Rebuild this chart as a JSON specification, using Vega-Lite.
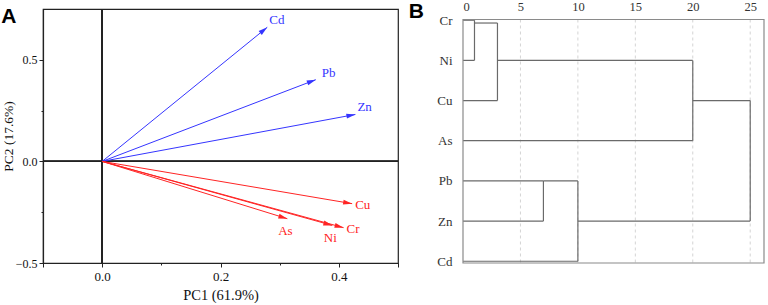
{
  "$schema": "https://vega.github.io/schema/vega-lite/v6.json",
  "padding": {"left": 0, "top": 0, "right": 2, "bottom": 0},
  "background": "white",
  "config": {
    "font": "Liberation Serif",
    "concat": {"spacing": 8},
    "axis": {"labelFont": "Liberation Serif", "titleFont": "Liberation Serif", "titleFontWeight": "normal"}
  },
  "hconcat": [
    {
      "width": 355,
      "height": 254,
      "title": {"text": "A", "anchor": "start", "frame": "bounds", "font": "Liberation Sans", "fontSize": 21, "fontWeight": "bold", "color": "#000", "baseline": "top", "dy": 23},
      "view": {"stroke": "#222", "strokeWidth": 1.2},
      "data": {"values": [
        {"v": "Cd", "g": "b", "x": 0.279, "y": 0.66},
        {"v": "Pb", "g": "b", "x": 0.361, "y": 0.402},
        {"v": "Zn", "g": "b", "x": 0.428, "y": 0.231},
        {"v": "Cu", "g": "r", "x": 0.4225, "y": -0.208},
        {"v": "Cr", "g": "r", "x": 0.408, "y": -0.326},
        {"v": "Ni", "g": "r", "x": 0.389, "y": -0.315},
        {"v": "As", "g": "r", "x": 0.313, "y": -0.282}
      ]},
      "encoding": {
        "x": {"field": "x", "type": "quantitative", "scale": {"domain": [-0.1, 0.5], "nice": false, "zero": false},
          "axis": {"values": [-0.1, 0, 0.1, 0.2, 0.3, 0.4, 0.5], "labelExpr": "datum.value == 0 || datum.value == 0.2 || datum.value == 0.4 ? format(datum.value, '.1f') : ''", "grid": false, "domainColor": "#222", "domainWidth": 1.2, "tickColor": "#222", "tickSize": {"condition": {"test": "datum.value == 0.1 || datum.value == 0.3", "value": 2}, "value": 4}, "labelFontSize": 13, "labelColor": "#111", "labelPadding": 3, "title": "PC1 (61.9%)", "titleFontSize": 14.5, "titleColor": "#111", "titlePadding": 5}},
        "y": {"field": "y", "type": "quantitative", "scale": {"domain": [-0.5, 0.75], "nice": false, "zero": false},
          "axis": {"values": [-0.5, -0.25, 0, 0.25, 0.5], "labelExpr": "datum.value == 0.25 || datum.value == -0.25 ? '' : format(datum.value, '.1f')", "grid": false, "domainColor": "#222", "domainWidth": 1.2, "tickColor": "#222", "tickSize": {"condition": {"test": "datum.value == 0.25 || datum.value == -0.25", "value": 2}, "value": 4}, "labelFontSize": 12, "labelColor": "#111", "labelPadding": 2, "title": "PC2 (17.6%)", "titleFontSize": 13.5, "titleColor": "#111", "titlePadding": 0}},
        "color": {"field": "g", "type": "nominal", "scale": {"domain": ["b", "r"], "range": ["#3535ff", "#ff2424"]}, "legend": null}
      },
      "layer": [
        {
          "mark": {"type": "rule", "color": "#222", "strokeWidth": 1.2},
          "encoding": {"x": {"datum": 0, "type": "quantitative"}, "y": null, "color": null}
        },
        {
          "mark": {"type": "rule", "color": "#222", "strokeWidth": 1.2},
          "encoding": {"y": {"datum": 0, "type": "quantitative"}, "x": null, "color": null}
        },
        {
          "data": {"values": [{"t": 0.1}, {"t": 0.2}, {"t": 0.3}, {"t": 0.4}]},
          "mark": {"type": "rule", "color": "#222", "strokeWidth": 1.2},
          "encoding": {"x": {"field": "t", "type": "quantitative"}, "y": {"datum": 0.75, "type": "quantitative"}, "y2": {"datum": 0.735}, "color": null}
        },
        {
          "mark": {"type": "rule", "strokeWidth": 1},
          "encoding": {
            "x2": {"datum": 0},
            "y2": {"datum": 0}
          }
        },
        {
          "transform": [{"calculate": "atan2(datum.x * 594, datum.y * 203.4) * 180 / PI", "as": "ang"}],
          "mark": {"type": "point", "shape": "M0,0L-0.55,2L0.55,2Z", "filled": true, "size": 81, "opacity": 1},
          "encoding": {
            "angle": {"field": "ang", "type": "quantitative", "scale": null}
          }
        },
        {
          "transform": [{"filter": "datum.v == 'Cd' || datum.v == 'Zn'"}],
          "mark": {"type": "text", "align": "left", "baseline": "middle", "dx": 2, "dy": -7.5, "fontSize": 13, "font": "Liberation Serif"},
          "encoding": {"text": {"field": "v", "type": "nominal"}}
        },
        {
          "transform": [{"filter": "datum.v == 'Pb'"}],
          "mark": {"type": "text", "align": "left", "baseline": "middle", "dx": 6, "dy": -7, "fontSize": 13, "font": "Liberation Serif"},
          "encoding": {"text": {"field": "v", "type": "nominal"}}
        },
        {
          "transform": [{"filter": "datum.v == 'Cu' || datum.v == 'Cr'"}],
          "mark": {"type": "text", "align": "left", "baseline": "middle", "dx": 3, "dy": 1, "fontSize": 13, "font": "Liberation Serif"},
          "encoding": {"text": {"field": "v", "type": "nominal"}}
        },
        {
          "transform": [{"filter": "datum.v == 'Ni' || datum.v == 'As'"}],
          "mark": {"type": "text", "align": "center", "baseline": "middle", "dx": -2, "dy": 12.5, "fontSize": 13, "font": "Liberation Serif"},
          "encoding": {"text": {"field": "v", "type": "nominal"}}
        }
      ]
    },
    {
      "width": 301,
      "height": 254,
      "title": {"text": "B", "anchor": "start", "frame": "bounds", "font": "Liberation Sans", "fontSize": 21, "fontWeight": "bold", "color": "#000", "baseline": "top", "dy": 25, "dx": -28},
      "view": {"stroke": null},
      "data": {"values": [
        {"x1": 0, "x2": 1, "y1": 0, "y2": 0},
        {"x1": 0, "x2": 1, "y1": 1, "y2": 1},
        {"x1": 1, "x2": 1, "y1": 0, "y2": 1},
        {"x1": 1, "x2": 3, "y1": 0.07, "y2": 0.07},
        {"x1": 0, "x2": 3, "y1": 2, "y2": 2},
        {"x1": 3, "x2": 3, "y1": 0.07, "y2": 2},
        {"x1": 3, "x2": 20, "y1": 1, "y2": 1},
        {"x1": 0, "x2": 20, "y1": 3, "y2": 3},
        {"x1": 20, "x2": 20, "y1": 1, "y2": 3},
        {"x1": 20, "x2": 25, "y1": 2, "y2": 2},
        {"x1": 0, "x2": 7, "y1": 4, "y2": 4},
        {"x1": 0, "x2": 7, "y1": 5, "y2": 5},
        {"x1": 7, "x2": 7, "y1": 4, "y2": 5},
        {"x1": 7, "x2": 10, "y1": 4, "y2": 4},
        {"x1": 0, "x2": 10, "y1": 6, "y2": 6},
        {"x1": 10, "x2": 10, "y1": 4, "y2": 6},
        {"x1": 10, "x2": 25, "y1": 5, "y2": 5},
        {"x1": 25, "x2": 25, "y1": 2, "y2": 5}
      ]},
      "layer": [
        {
          "data": {"values": [{"t": 5}, {"t": 10}, {"t": 15}, {"t": 20}, {"t": 25}]},
          "mark": {"type": "rule", "color": "#d4d4d4", "strokeWidth": 1, "strokeDash": [3, 3]},
          "encoding": {
            "x": {"field": "t", "type": "quantitative"},
            "y": {"datum": -0.018, "type": "quantitative"},
            "y2": {"datum": 6.044}
          }
        },
        {
          "mark": {"type": "rule", "color": "#6a6a6a", "strokeWidth": 1.2},
          "encoding": {
            "x": {"field": "x1", "type": "quantitative", "scale": {"domain": [0, 26.2], "nice": false, "zero": false},
              "axis": {"orient": "top", "offset": -10.5, "values": [0, 5, 10, 15, 20, 25], "format": "d", "grid": false, "domain": false, "ticks": false, "labelPadding": 6, "labelFontSize": 12.5, "labelColor": "#333", "title": null}},
            "x2": {"field": "x2"},
            "y": {"field": "y1", "type": "quantitative", "scale": {"domain": [-0.279, 6.044], "reverse": true, "nice": false, "zero": false},
              "axis": {"values": [0, 1, 2, 3, 4, 5, 6], "labelExpr": "['Cr','Ni','Cu','As','Pb','Zn','Cd'][datum.value]", "grid": false, "ticks": false, "domain": false, "labelPadding": 11, "labelFontSize": 13, "labelColor": "#333", "title": null}},
            "y2": {"field": "y2"}
          }
        },
        {
          "data": {"values": [{}]},
          "mark": {"type": "rect", "fill": null, "fillOpacity": 0, "stroke": "#8a8a8a", "strokeWidth": 1.2},
          "encoding": {
            "x": {"datum": 0, "type": "quantitative"},
            "x2": {"datum": 26.2},
            "y": {"datum": -0.018, "type": "quantitative"},
            "y2": {"datum": 6.044}
          }
        }
      ]
    }
  ]
}
